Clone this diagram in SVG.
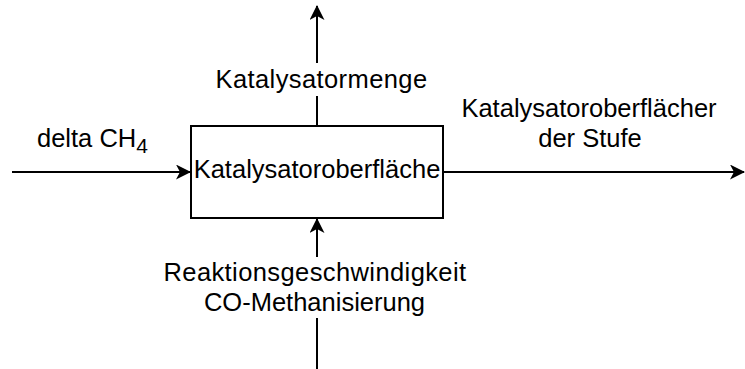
<svg xmlns="http://www.w3.org/2000/svg" width="745" height="369" viewBox="0 0 745 369">
  <style>
    .lbl { font-family: "Liberation Sans", Arial, sans-serif; font-size: 25.5px; fill: #000; }
    .mid { text-anchor: middle; }
    .wide { letter-spacing: 0.4px; }
    .ln { stroke: #000; stroke-width: 2; fill: none; }
    .box { fill: #fff; stroke: #000; stroke-width: 2; }
  </style>
  <defs>
    <marker id="arr" viewBox="0 0 15 15" refX="14" refY="7.5" markerWidth="15" markerHeight="15" markerUnits="userSpaceOnUse" orient="auto">
      <path d="M0,0 L15,7.5 L0,15 L4,7.5 Z" fill="#000"/>
    </marker>
  </defs>
  <rect width="745" height="369" fill="#fff"/>

  <g id="connectors">
    <!-- input from the left -->
    <line class="ln" x1="12" y1="172" x2="190" y2="172" marker-end="url(#arr)"/>
    <!-- output to the right -->
    <line class="ln" x1="443" y1="172" x2="744" y2="172" marker-end="url(#arr)"/>
    <!-- upward output, split by its label -->
    <line class="ln" x1="317" y1="126" x2="317" y2="96"/>
    <line class="ln" x1="317" y1="63" x2="317" y2="6" marker-end="url(#arr)"/>
    <!-- control from below, split by its label -->
    <line class="ln" x1="317" y1="369" x2="317" y2="318"/>
    <line class="ln" x1="317" y1="257" x2="317" y2="219" marker-end="url(#arr)"/>
  </g>

  <g id="node-katalysatoroberflaeche">
    <rect class="box" x="191" y="126" width="252" height="92"/>
    <text class="lbl mid" x="317" y="178">Katalysatoroberfläche</text>
  </g>

  <g id="label-delta">
    <text class="lbl" x="37" y="147">delta CH<tspan font-size="21" dy="6">4</tspan></text>
  </g>
  <g id="label-menge">
    <text class="lbl mid wide" x="321.5" y="88">Katalysatormenge</text>
  </g>
  <g id="label-stufe">
    <text class="lbl mid" x="589" y="117">Katalysatoroberflächer</text>
    <text class="lbl mid" x="590" y="147">der Stufe</text>
  </g>
  <g id="label-reaktion">
    <text class="lbl mid wide" x="315" y="281">Reaktionsgeschwindigkeit</text>
    <text class="lbl mid" x="314.5" y="311">CO-Methanisierung</text>
  </g>
</svg>
